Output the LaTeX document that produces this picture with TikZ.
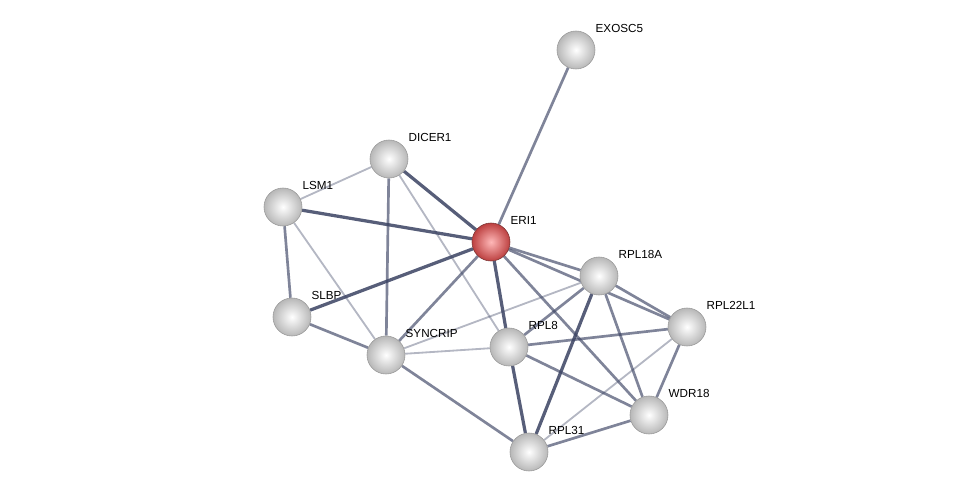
\documentclass[tikz,border=0pt]{standalone}
\usepackage{fontspec}
\setmainfont{Liberation Sans}
\usetikzlibrary{backgrounds}
\definecolor{edgeblue}{RGB}{58, 66, 98}
\tikzset{
  protein/.style={circle, shading=radial, inner color=white, outer color=black!28, draw=black!40, line width=0.4pt, minimum size=0.95cm, inner sep=0pt},
  query/.style={protein, inner color=red!28!white, outer color=red!65!black!75, draw=red!35!black!80},
  plabel/.style={anchor=west, font=\fontsize{8.3}{9}\selectfont, inner sep=1pt},
  strong/.style={draw=edgeblue, line width=2.3pt, opacity=0.85},
  mid/.style={draw=edgeblue, line width=1.9pt, opacity=0.65},
  weak/.style={draw=edgeblue, line width=1.3pt, opacity=0.38}
}
\begin{document}
\begin{tikzpicture}[x=0.025cm, y=-0.025cm]
  \useasboundingbox (0,0) rectangle (976,497);
  % proteins
  \node [protein] (exosc5) at (576,50) {};
  \node [protein] (dicer1) at (389,159) {};
  \node [protein] (lsm1) at (283,207) {};
  \node [query] (eri1) at (491,242) {};
  \node [protein] (rpl18a) at (599,276) {};
  \node [protein] (slbp) at (292,317) {};
  \node [protein] (rpl22l1) at (687,327) {};
  \node [protein] (syncrip) at (386,355) {};
  \node [protein] (rpl8) at (509,347) {};
  \node [protein] (wdr18) at (649,415) {};
  \node [protein] (rpl31) at (529,452) {};
  % labels
  \foreach \p/\t in {exosc5/EXOSC5, dicer1/DICER1, lsm1/LSM1, eri1/ERI1, rpl18a/RPL18A,
      slbp/SLBP, rpl22l1/RPL22L1, syncrip/SYNCRIP, rpl8/RPL8, wdr18/WDR18, rpl31/RPL31}
    \node [plabel] at ([shift={(18,-22)}]\p.center) {\t};
  % interactions
  \begin{scope}[on background layer]
    \draw [strong] (dicer1) -- (eri1);
    \draw [strong] (eri1) -- (slbp);
    \draw [strong] (eri1) -- (rpl8);
    \draw [strong] (rpl8) -- (rpl31);
    \draw [strong] (rpl18a) -- (rpl31);
    \draw [strong] (lsm1) -- (eri1);
    \foreach \a/\b in {exosc5/eri1, dicer1/syncrip, lsm1/slbp, eri1/syncrip, eri1/rpl18a,
        eri1/rpl22l1, eri1/wdr18, slbp/syncrip, syncrip/rpl31, rpl8/rpl18a, rpl8/rpl22l1,
        rpl8/wdr18, rpl18a/rpl22l1, rpl18a/wdr18, rpl22l1/wdr18, wdr18/rpl31}
      \draw [mid] (\a) -- (\b);
    \foreach \a/\b in {dicer1/lsm1, dicer1/rpl8, lsm1/syncrip, syncrip/rpl18a,
        syncrip/rpl8, rpl22l1/rpl31}
      \draw [weak] (\a) -- (\b);
  \end{scope}
\end{tikzpicture}
\end{document}
